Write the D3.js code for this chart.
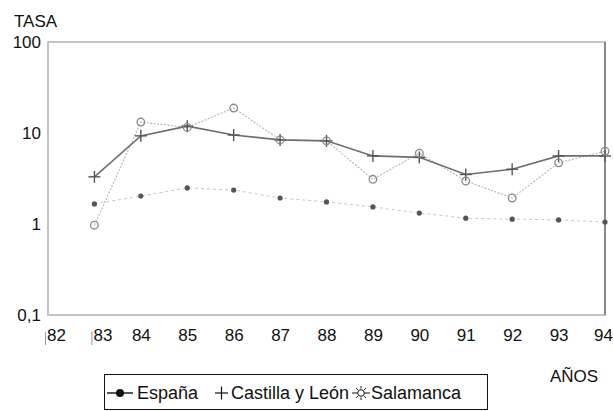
<!DOCTYPE html>
<html>
<head>
<meta charset="utf-8">
<script src="https://cdn.jsdelivr.net/npm/d3@7"></script>
<style>
  body { margin: 0; background: #fff; }
  text { font-family: "Liberation Sans", Arial, sans-serif; fill: #111; }
</style>
</head>
<body>
<div id="chart"></div>
<script>
// datos (tasa, escala logarítmica)
var years = [83, 84, 85, 86, 87, 88, 89, 90, 91, 92, 93, 94];
var espana = [1.66, 2.03, 2.49, 2.36, 1.93, 1.75, 1.54, 1.32, 1.16, 1.13, 1.11, 1.05];
var castilla = [3.3, 9.3, 11.9, 9.5, 8.4, 8.2, 5.6, 5.4, 3.5, 4.0, 5.6, 5.6];
var salamanca = [0.97, 13.2, 11.5, 18.8, 8.4, 8.2, 3.1, 6.0, 2.97, 1.93, 4.7, 6.3];
var xTicks = [82, 83, 84, 85, 86, 87, 88, 89, 90, 91, 92, 93, 94];
var yTicks = [0.1, 1, 10, 100];
var yTickLabels = ["0,1", "1", "10", "100"];

var W = 613, H = 411;
var margin = {top: 42, right: 8, bottom: 96, left: 48};

var svg = d3.select("#chart").append("svg")
    .attr("width", W)
    .attr("height", H);

var x = d3.scaleLinear().domain([82, 94]).range([margin.left, W - margin.right]);
var y = d3.scaleLog().domain([0.1, 100]).range([H - margin.bottom, margin.top]);

// marco
svg.append("rect")
    .attr("x", x(82)).attr("y", y(100))
    .attr("width", x(94) - x(82)).attr("height", y(0.1) - y(100))
    .attr("fill", "none").attr("stroke", "#c4c4c4").attr("stroke-width", 2);
svg.append("line")
    .attr("x1", x(94)).attr("x2", x(94)).attr("y1", y(100)).attr("y2", y(0.1))
    .attr("stroke", "#8a8a8a").attr("stroke-width", 2);

// eje y
var yAxis = d3.axisLeft(y).tickValues(yTicks).tickSize(0).tickPadding(7)
    .tickFormat(function(d, i) { return yTickLabels[i]; });
var gy = svg.append("g").attr("transform", "translate(" + x(82) + ",0)").call(yAxis);
gy.select(".domain").remove();
gy.selectAll("text").style("font-size", "17px").attr("fill", "#111");

// eje x
var xAxis = d3.axisBottom(x).tickValues(xTicks).tickSize(0).tickPadding(14)
    .tickFormat(function(d) { return d; });
var gx = svg.append("g").attr("transform", "translate(0," + y(0.1) + ")").call(xAxis);
gx.select(".domain").remove();
gx.selectAll("text").style("font-size", "17px").attr("fill", "#111")
    .attr("dx", function(d) { return d <= 83 ? 8 : (d === 94 ? -2 : 0); });
gx.selectAll(".tick").filter(function(d) { return d <= 83; })
    .append("line")
    .attr("x1", -3).attr("x2", -3).attr("y1", 17).attr("y2", 30)
    .attr("stroke", "#999").attr("stroke-width", 1);

svg.append("text").attr("x", 14).attr("y", 27).style("font-size", "17px").text("TASA");
svg.append("text").attr("x", 550).attr("y", 382).style("font-size", "17px").text("AÑOS");

var line = d3.line()
    .x(function(d, i) { return x(years[i]); })
    .y(function(d) { return y(d); });

// España
svg.append("path").datum(espana).attr("d", line)
    .attr("fill", "none").attr("stroke", "#c8c8c8").attr("stroke-width", 1)
    .attr("stroke-dasharray", "3,3");
svg.selectAll(".esp").data(espana).enter().append("circle")
    .attr("cx", function(d, i) { return x(years[i]); })
    .attr("cy", function(d) { return y(d); })
    .attr("r", 2.6).attr("fill", "#555");

// Salamanca
svg.append("path").datum(salamanca).attr("d", line)
    .attr("fill", "none").attr("stroke", "#b4b4b4").attr("stroke-width", 1.1)
    .attr("stroke-dasharray", "2,1.5");

// Castilla y León
svg.append("path").datum(castilla).attr("d", line)
    .attr("fill", "none").attr("stroke", "#6e6e6e").attr("stroke-width", 1.6);
var plus = svg.selectAll(".cyl").data(castilla).enter().append("g")
    .attr("transform", function(d, i) { return "translate(" + x(years[i]) + "," + y(d) + ")"; });
plus.append("line").attr("x1", -6).attr("x2", 6).attr("stroke", "#555").attr("stroke-width", 1.4);
plus.append("line").attr("y1", -6).attr("y2", 6).attr("stroke", "#555").attr("stroke-width", 1.4);

svg.selectAll(".sal").data(salamanca).enter().append("circle")
    .attr("cx", function(d, i) { return x(years[i]); })
    .attr("cy", function(d) { return y(d); })
    .attr("r", 3.8).attr("fill", "none").attr("stroke", "#888").attr("stroke-width", 1.3);

// leyenda
var lg = svg.append("g");
lg.append("rect").attr("x", 104.5).attr("y", 374.5).attr("width", 383).attr("height", 35)
    .attr("fill", "#fff").attr("stroke", "#111").attr("stroke-width", 1);
var ly = 393;
lg.append("line").attr("x1", 107).attr("x2", 133).attr("y1", ly).attr("y2", ly)
    .attr("stroke", "#111").attr("stroke-width", 1.4);
lg.append("circle").attr("cx", 120).attr("cy", ly).attr("r", 4).attr("fill", "#111");
lg.append("text").attr("x", 137).attr("y", ly + 6).style("font-size", "18px").text("España");

lg.append("line").attr("x1", 215).attr("x2", 228).attr("y1", ly).attr("y2", ly)
    .attr("stroke", "#111").attr("stroke-width", 1.2);
lg.append("line").attr("x1", 221.5).attr("x2", 221.5).attr("y1", ly - 6.5).attr("y2", ly + 6.5)
    .attr("stroke", "#111").attr("stroke-width", 1.2);
lg.append("text").attr("x", 231).attr("y", ly + 6).style("font-size", "18px").text("Castilla y León");

var sun = lg.append("g").attr("transform", "translate(361," + ly + ")");
sun.append("line").attr("x1", -9).attr("x2", 9).attr("stroke", "#111").attr("stroke-width", 1);
sun.append("circle").attr("r", 3.3).attr("fill", "#fff").attr("stroke", "#111").attr("stroke-width", 1);
d3.range(8).forEach(function(k) {
    var a = k * Math.PI / 4;
    if (k % 4 === 0) return;
    sun.append("line")
        .attr("x1", 4.5 * Math.cos(a)).attr("y1", 4.5 * Math.sin(a))
        .attr("x2", 7 * Math.cos(a)).attr("y2", 7 * Math.sin(a))
        .attr("stroke", "#111").attr("stroke-width", 1);
});
lg.append("text").attr("x", 371).attr("y", ly + 6).style("font-size", "18px").text("Salamanca");
</script>
</body>
</html>
